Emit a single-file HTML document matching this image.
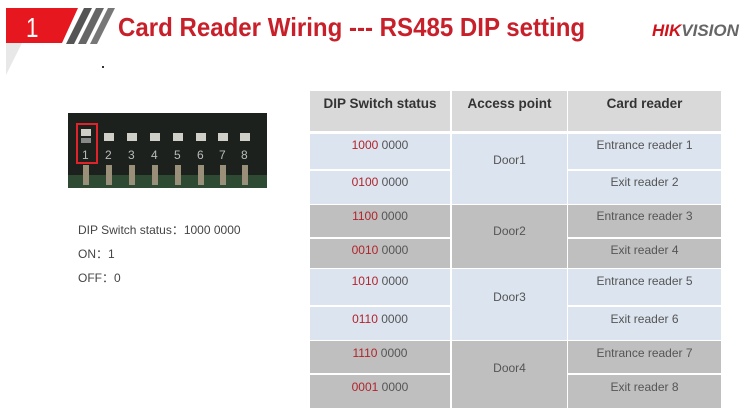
<!DOCTYPE html>
<html><head><meta charset="utf-8"><style>
*{margin:0;padding:0;box-sizing:border-box}
body{width:754px;height:420px;background:#fff;position:relative;overflow:hidden;font-family:"Liberation Sans","Noto Sans CJK SC",sans-serif}
.a{position:absolute}
.c{position:absolute;text-align:center;font-size:12px;color:#555}
.r{color:#b0242c}
</style></head><body>
<svg class="a" style="left:0;top:0" width="130" height="80">
<polygon points="6,8 78,8 62,43 6,43" fill="#e6171e"/>
<polygon points="6,43 22,43 6,75" fill="#e8e8e8"/>
<polygon points="84,8 92,8 74,44 66,44" fill="#555"/>
<polygon points="96,8 104,8 86,44 78,44" fill="#666"/>
<polygon points="108,8 115,8 97,44 90,44" fill="#777"/>
<text x="26" y="37" font-family="Liberation Sans" font-size="28" fill="#fff" transform="scale(0.8,1)" transform-origin="26 37">1</text>
</svg>
<div class="a" style="left:118px;top:12px;font-size:26px;font-weight:bold;color:#c8202a;white-space:nowrap;transform:scaleX(0.925);transform-origin:0 0">Card Reader Wiring --- RS485 DIP setting</div>
<div class="a" style="left:652px;top:21px;font-size:17px;font-weight:bold;font-style:italic;white-space:nowrap"><span style="color:#d0121b">HIK</span><span style="color:#666">VISION</span></div>
<div class="a" style="left:102px;top:66px;width:2px;height:2px;background:#333"></div>

<svg class="a" style="left:68px;top:113px" width="199" height="75">
<rect width="199" height="75" fill="#1c211e"/>
<rect y="62" width="199" height="13" fill="#2f4a33"/>
<g fill="#cfcfc8">
<rect x="13" y="16" width="10" height="7"/><rect x="13" y="25" width="10" height="5" fill="#888"/>
<rect x="36" y="20" width="10" height="8"/><rect x="59" y="20" width="10" height="8"/><rect x="82" y="20" width="10" height="8"/><rect x="105" y="20" width="10" height="8"/><rect x="128" y="20" width="10" height="8"/><rect x="150" y="20" width="10" height="8"/><rect x="172" y="20" width="10" height="8"/>
</g>
<g fill="#bbb" font-size="12" font-family="Liberation Sans">
<text x="14" y="46">1</text><text x="37" y="46">2</text><text x="60" y="46">3</text><text x="83" y="46">4</text><text x="106" y="46">5</text><text x="129" y="46">6</text><text x="151" y="46">7</text><text x="173" y="46">8</text>
</g>
<g fill="#9a8f78"><rect x="15" y="52" width="6" height="20"/><rect x="38" y="52" width="6" height="20"/><rect x="61" y="52" width="6" height="20"/><rect x="84" y="52" width="6" height="20"/><rect x="107" y="52" width="6" height="20"/><rect x="130" y="52" width="6" height="20"/><rect x="152" y="52" width="6" height="20"/><rect x="174" y="52" width="6" height="20"/></g>
<rect x="9" y="11" width="20" height="39" fill="none" stroke="#e0222a" stroke-width="2"/>
</svg>

<div class="a" style="left:78px;top:221px;font-size:12px;color:#444">DIP Switch status：1000 0000</div>
<div class="a" style="left:78px;top:245px;font-size:12px;color:#444">ON：1</div>
<div class="a" style="left:78px;top:269px;font-size:12px;color:#444">OFF：0</div>

<div class="a" style="left:310px;top:91px;width:140px;height:40px;background:#d9d9d9"></div>
<div class="a" style="left:452px;top:91px;width:115px;height:40px;background:#d9d9d9"></div>
<div class="a" style="left:568px;top:91px;width:153px;height:40px;background:#d9d9d9"></div>
<div class="c" style="left:310px;top:96px;width:140px;font-size:13.5px;font-weight:bold;color:#333">DIP Switch status</div>
<div class="c" style="left:452px;top:96px;width:115px;font-size:13.5px;font-weight:bold;color:#333">Access point</div>
<div class="c" style="left:568px;top:96px;width:153px;font-size:13.5px;font-weight:bold;color:#333">Card reader</div>

<div class="a" style="left:310px;top:134px;width:140px;height:35px;background:#dce4ef"></div>
<div class="a" style="left:310px;top:171px;width:140px;height:33px;background:#dce4ef"></div>
<div class="a" style="left:452px;top:134px;width:115px;height:70px;background:#dce4ef"></div>
<div class="a" style="left:568px;top:134px;width:153px;height:35px;background:#dce4ef"></div>
<div class="a" style="left:568px;top:171px;width:153px;height:33px;background:#dce4ef"></div>

<div class="a" style="left:310px;top:205px;width:140px;height:32px;background:#bfbfbf"></div>
<div class="a" style="left:310px;top:239px;width:140px;height:29px;background:#bfbfbf"></div>
<div class="a" style="left:452px;top:205px;width:115px;height:63px;background:#bfbfbf"></div>
<div class="a" style="left:568px;top:205px;width:153px;height:32px;background:#bfbfbf"></div>
<div class="a" style="left:568px;top:239px;width:153px;height:29px;background:#bfbfbf"></div>

<div class="a" style="left:310px;top:269px;width:140px;height:36px;background:#dce4ef"></div>
<div class="a" style="left:310px;top:307px;width:140px;height:33px;background:#dce4ef"></div>
<div class="a" style="left:452px;top:269px;width:115px;height:71px;background:#dce4ef"></div>
<div class="a" style="left:568px;top:269px;width:153px;height:36px;background:#dce4ef"></div>
<div class="a" style="left:568px;top:307px;width:153px;height:33px;background:#dce4ef"></div>

<div class="a" style="left:310px;top:341px;width:140px;height:32px;background:#bfbfbf"></div>
<div class="a" style="left:310px;top:375px;width:140px;height:33px;background:#bfbfbf"></div>
<div class="a" style="left:452px;top:341px;width:115px;height:67px;background:#bfbfbf"></div>
<div class="a" style="left:568px;top:341px;width:153px;height:32px;background:#bfbfbf"></div>
<div class="a" style="left:568px;top:375px;width:153px;height:33px;background:#bfbfbf"></div>

<div class="c" style="left:310px;top:138px;width:140px"><span class="r">1000</span> 0000</div>
<div class="c" style="left:310px;top:175px;width:140px"><span class="r">0100</span> 0000</div>
<div class="c" style="left:310px;top:209px;width:140px"><span class="r">1100</span> 0000</div>
<div class="c" style="left:310px;top:243px;width:140px"><span class="r">0010</span> 0000</div>
<div class="c" style="left:310px;top:274px;width:140px"><span class="r">1010</span> 0000</div>
<div class="c" style="left:310px;top:312px;width:140px"><span class="r">0110</span> 0000</div>
<div class="c" style="left:310px;top:346px;width:140px"><span class="r">1110</span> 0000</div>
<div class="c" style="left:310px;top:380px;width:140px"><span class="r">0001</span> 0000</div>

<div class="c" style="left:452px;top:153px;width:115px">Door1</div>
<div class="c" style="left:452px;top:224px;width:115px">Door2</div>
<div class="c" style="left:452px;top:290px;width:115px">Door3</div>
<div class="c" style="left:452px;top:361px;width:115px">Door4</div>

<div class="c" style="left:568px;top:138px;width:153px">Entrance reader 1</div>
<div class="c" style="left:568px;top:175px;width:153px">Exit reader 2</div>
<div class="c" style="left:568px;top:209px;width:153px">Entrance reader 3</div>
<div class="c" style="left:568px;top:243px;width:153px">Exit reader 4</div>
<div class="c" style="left:568px;top:274px;width:153px">Entrance reader 5</div>
<div class="c" style="left:568px;top:312px;width:153px">Exit reader 6</div>
<div class="c" style="left:568px;top:346px;width:153px">Entrance reader 7</div>
<div class="c" style="left:568px;top:380px;width:153px">Exit reader 8</div>
</body></html>
